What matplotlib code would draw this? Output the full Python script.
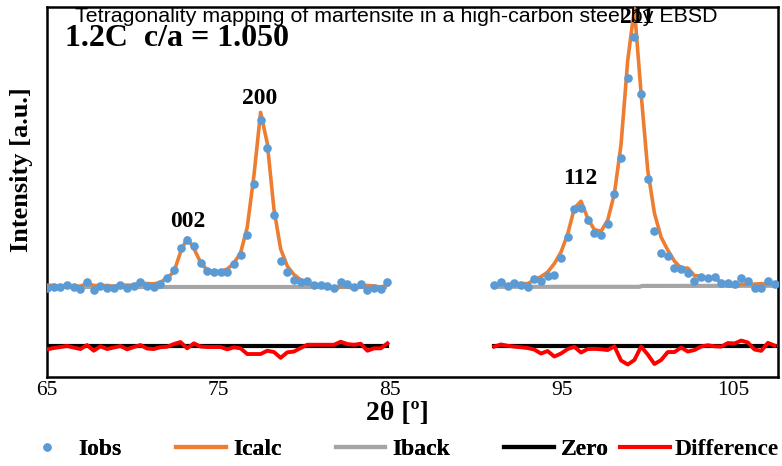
import numpy as np
import matplotlib
matplotlib.use("Agg")
import matplotlib.pyplot as plt
from matplotlib.lines import Line2D

# ---------------- data ----------------
step = 0.389
idx_left = np.arange(0, 52)
idx_right = np.arange(67, 110)
two_theta_left = 65 + step * idx_left
two_theta_right = 65 + step * idx_right

iobs_left = [57.7, 58.7, 58.7, 61.0, 58.7, 57.0, 63.7, 56.0, 60.0, 57.7,
             58.3, 61.0, 57.7, 60.0, 64.3, 60.0, 59.3, 62.5, 67.7, 76.0,
             98.0, 106.0, 100.5, 83.3, 75.0, 73.7, 73.7, 73.7, 81.7, 91.0,
             111.0, 162.7, 226.0, 198.3, 131.0, 85.5, 73.7, 66.0, 64.3, 65.3,
             61.0, 61.0, 60.0, 58.3, 63.7, 61.7, 58.7, 61.7, 56.0, 57.7,
             56.7, 63.7]
icalc_left = [61.0, 60.7, 59.7, 61.0, 60.2, 60.0, 62.7, 60.7, 60.3, 60.7,
              59.8, 61.0, 61.0, 61.0, 63.3, 62.5, 62.3, 63.7, 68.4, 74.0,
              94.0, 108.3, 97.8, 83.8, 76.0, 74.7, 74.7, 77.0, 83.0, 93.3,
              119.0, 170.7, 234.0, 203.0, 137.0, 97.3, 80.0, 71.5, 66.3, 64.0,
              59.7, 59.7, 58.7, 57.0, 59.4, 59.7, 57.4, 59.4, 60.7, 60.0,
              59.0, 61.0]
diff_left = [-3.3, -2.0, -1.0, 0.0, -1.5, -3.0, 1.0, -4.7, -0.3, -3.0,
             -1.5, 0.0, -3.3, -1.0, 1.0, -2.5, -3.0, -1.2, -0.7, 2.0,
             4.0, -2.3, 2.7, -0.5, -1.0, -1.0, -1.0, -3.3, -1.3, -2.3,
             -8.0, -8.0, -8.0, -4.7, -6.0, -11.8, -6.3, -5.5, -2.0, 1.3,
             1.3, 1.3, 1.3, 1.3, 4.3, 2.0, 1.3, 2.3, -4.7, -2.3,
             -2.3, 2.7]

iobs_right = [61.0, 64.0, 60.2, 62.7, 61.0, 59.3, 67.0, 64.7, 70.0, 71.5,
              87.7, 109.3, 137.0, 138.5, 126.0, 113.5, 111.0, 122.7, 152.5, 188.3,
              268.7, 309.3, 252.7, 167.0, 115.0, 93.5, 90.3, 78.5, 77.0, 73.3,
              65.3, 69.3, 67.7, 68.7, 63.3, 63.3, 62.0, 67.7, 65.3, 57.7,
              57.7, 65.3, 62.0]
icalc_right = [61.5, 62.0, 61.0, 62.5, 62.5, 62.5, 66.0, 69.5, 74.0, 82.5,
               94.0, 112.0, 138.0, 145.0, 128.0, 116.5, 115.0, 126.0, 152.5, 202.0,
               286.0, 338.0, 253.0, 176.0, 133.0, 109.0, 96.0, 85.0, 78.0, 78.0,
               70.5, 70.0, 67.0, 68.2, 64.0, 60.5, 59.5, 62.0, 62.0, 62.0,
               62.5, 62.0, 62.0]
diff_right = [-0.6, 1.6, 0.3, -0.6, -1.2, -2.0, -3.5, -7.5, -5.0, -10.5,
              -7.5, -3.0, -0.8, -6.5, -3.0, -2.8, -3.3, -4.0, -0.3, -14.5,
              -18.5, -14.0, -0.5, -8.5, -18.0, -14.0, -6.0, -6.0, -1.5, -5.5,
              -4.0, -0.5, 0.8, -0.3, -0.6, 3.0, 2.6, 5.5, 3.5, -3.5,
              -4.8, 3.2, 0.5]

iback_left = [59.3, 59.3]
iback_right = [59.3, 59.3, 60.2, 60.3]
iback_left_x = [65.0, 84.84]
iback_right_x = [91.06, 99.5, 99.7, 107.4]

peak_labels = ["002", "200", "112", "211"]
peak_x = [73.2, 77.41, 96.06, 99.38]
peak_y = [125, 248, 168, 329]

x_ticks = [65, 75, 85, 95, 105]

# ---------------- style ----------------
C_OBS = "#5B9BD5"
C_CALC = "#ED7D31"
C_BACK = "#A5A5A5"
C_ZERO = "#000000"
C_DIFF = "#FF0000"
SERIF = ["Liberation Serif", "DejaVu Serif"]

fig = plt.figure(figsize=(7.82, 4.66), dpi=100)
ax = fig.add_axes([47 / 782, 1 - 377 / 466, (778 - 47) / 782, (377 - 7) / 466])

segments = [
    (two_theta_left, iobs_left, icalc_left, diff_left, iback_left_x, iback_left),
    (two_theta_right, iobs_right, icalc_right, diff_right, iback_right_x, iback_right),
]
for x, yo, yc, yd, bx, by in segments:
    ax.plot(bx, by, color=C_BACK, lw=3, zorder=2, solid_capstyle="butt")
    ax.plot(x, np.zeros_like(x), color=C_ZERO, lw=3, zorder=2)
    ax.plot(x, yd, color=C_DIFF, lw=2.8, zorder=3)
    ax.plot(x, yc, color=C_CALC, lw=2.6, zorder=4)
    ax.plot(x, yo, "o", color=C_OBS, ms=6.2, mec="none", zorder=5)

ax.set_xlim(65, 107.6)
ax.set_ylim(-31, 339.5)
ax.set_xticks(x_ticks)
ax.set_xticklabels([str(t) for t in x_ticks], fontfamily=SERIF, fontsize=15.5)
ax.set_yticks([])
ax.tick_params(axis="x", length=0, pad=3)
for s in ax.spines.values():
    s.set_linewidth(1.8)
    s.set_color("black")

for lab, px, py in zip(peak_labels, peak_x, peak_y):
    ax.text(px, py, lab, ha="center", va="center", fontfamily=SERIF,
            fontweight="bold", fontsize=17, zorder=6)

ax.text(66.05, 308, "1.2C  c/a = 1.050", ha="left", va="center",
        fontfamily=SERIF, fontweight="bold", fontsize=23)

fig.text(22 / 782, 1 - 170 / 466, "Intensity [a.u.]", rotation=90, ha="center",
         va="center", fontfamily=SERIF, fontweight="bold", fontsize=19)
fig.text(397 / 782, 1 - 414 / 466, "2θ [º]", ha="center", va="center",
         fontfamily=SERIF, fontweight="bold", fontsize=20)

fig.text(396 / 782, 1 - 17 / 466,
         "Tetragonality mapping of martensite in a high-carbon steel by EBSD",
         ha="center", va="center", fontfamily=["Liberation Sans", "DejaVu Sans"],
         fontsize=15.4, zorder=10)

handles = [
    Line2D([], [], marker="o", ls="none", color=C_OBS, ms=6, mec="none"),
    Line2D([], [], color=C_CALC, lw=3),
    Line2D([], [], color=C_BACK, lw=3),
    Line2D([], [], color=C_ZERO, lw=3),
    Line2D([], [], color=C_DIFF, lw=3),
]
labels = ["Iobs", "Icalc", "Iback", "Zero", "Difference"]
leg_prop = {"family": SERIF, "weight": "bold", "size": 17}
leg_y = 1 - 449 / 466
leg_a = fig.legend(handles[:4], labels[:4], loc="center left",
                   bbox_to_anchor=(22 / 782, leg_y), ncol=4, frameon=False,
                   handlelength=2.1, handletextpad=0.3, columnspacing=2.3,
                   borderpad=0, borderaxespad=0, prop=leg_prop)
fig.add_artist(leg_a)
fig.legend(handles[4:], labels[4:], loc="center left",
           bbox_to_anchor=(620 / 782, leg_y), ncol=1, frameon=False,
           handlelength=2.1, handletextpad=0.2, borderpad=0, borderaxespad=0,
           prop=leg_prop)

fig.savefig("out.png", dpi=100)
